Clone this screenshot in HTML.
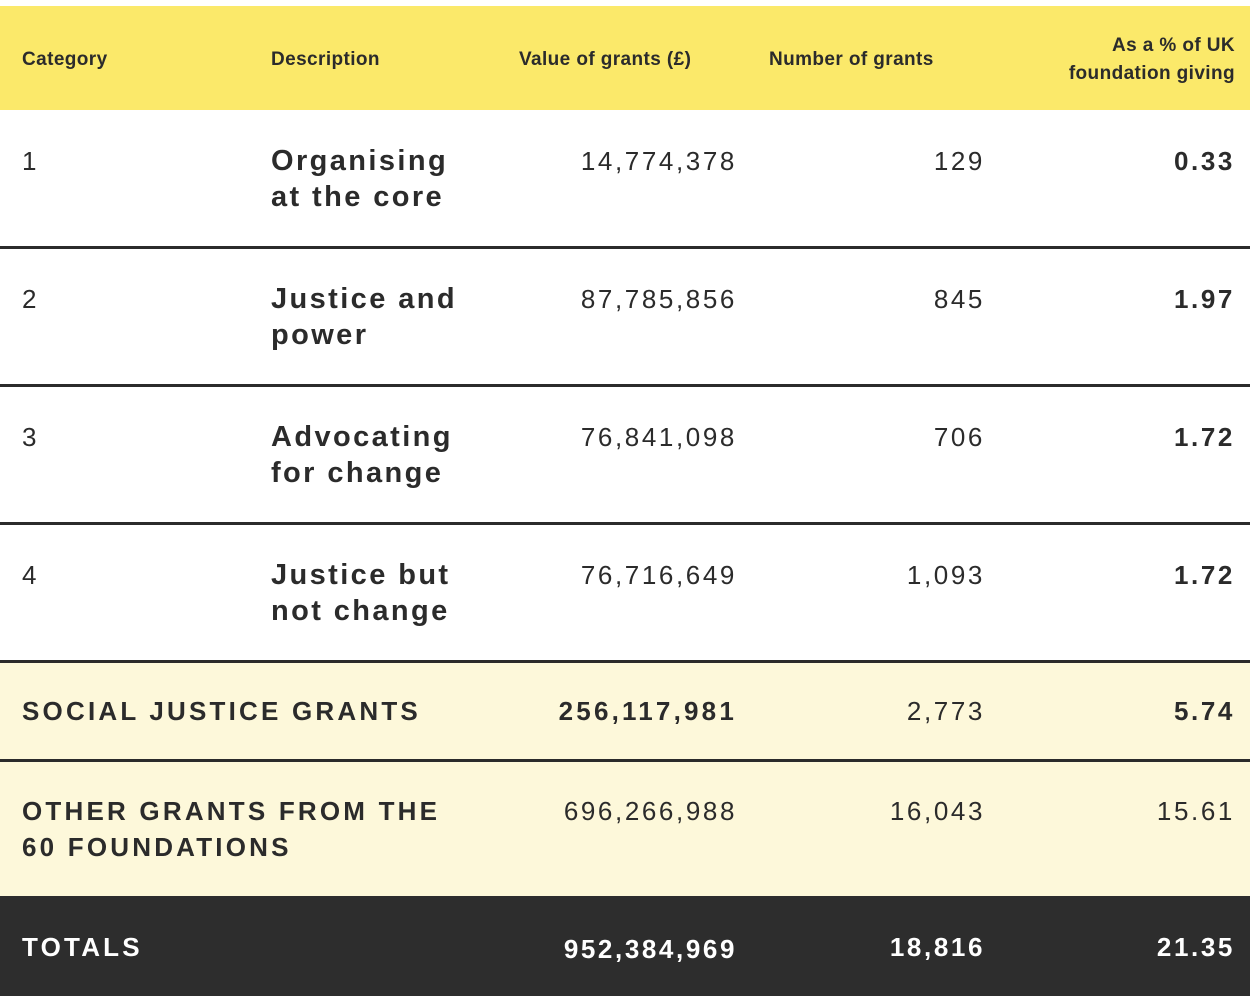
<!DOCTYPE html>
<html><head><style>
body{margin:0;width:1250px;height:996px;position:relative;background:#fff;font-family:"Liberation Sans",sans-serif;color:#2b2b2b;overflow:hidden}
div{position:absolute}
.bg{left:0;width:1250px}
.line{left:0;width:1250px;height:3px;background:#2b2b2b}
.h{font-size:19px;font-weight:bold;line-height:28px;letter-spacing:0.4px}
.n{font-size:26px;letter-spacing:2.6px;line-height:36px}
.r{text-align:right}
.d{font-size:29px;font-weight:bold;letter-spacing:2.4px;line-height:36px}
.c{font-size:26px;font-weight:bold;letter-spacing:3.2px;line-height:36px}
.b{font-weight:bold}
.nb{letter-spacing:3.2px}
</style></head><body>
<div class="bg" style="top:6px;height:104px;background:#fbe96a"></div>
<div class="h" style="left:22px;top:46px">Category</div>
<div class="h" style="left:271px;top:46px">Description</div>
<div class="h" style="left:519px;top:46px">Value of grants (£)</div>
<div class="h" style="left:769px;top:46px">Number of grants</div>
<div class="h r" style="right:15px;top:32px">As a % of UK<br>foundation giving</div>

<div class="line" style="top:246px"></div>
<div class="line" style="top:384px"></div>
<div class="line" style="top:522px"></div>
<div class="bg" style="top:660px;height:236px;background:#fdf8da"></div>
<div class="line" style="top:660px"></div>
<div class="line" style="top:759px"></div>
<div class="bg" style="top:896px;height:100px;background:#2d2d2d"></div>

<div class="n" style="left:22px;top:143px">1</div>
<div class="d" style="left:271px;top:143px">Organising<br>at the core</div>
<div class="n r" style="right:513px;top:143px">14,774,378</div>
<div class="n r" style="right:265px;top:143px">129</div>
<div class="n r b" style="right:15px;top:143px">0.33</div>

<div class="n" style="left:22px;top:281px">2</div>
<div class="d" style="left:271px;top:281px">Justice and<br>power</div>
<div class="n r" style="right:513px;top:281px">87,785,856</div>
<div class="n r" style="right:265px;top:281px">845</div>
<div class="n r b" style="right:15px;top:281px">1.97</div>

<div class="n" style="left:22px;top:419px">3</div>
<div class="d" style="left:271px;top:419px">Advocating<br>for change</div>
<div class="n r" style="right:513px;top:419px">76,841,098</div>
<div class="n r" style="right:265px;top:419px">706</div>
<div class="n r b" style="right:15px;top:419px">1.72</div>

<div class="n" style="left:22px;top:557px">4</div>
<div class="d" style="left:271px;top:557px">Justice but<br>not change</div>
<div class="n r" style="right:513px;top:557px">76,716,649</div>
<div class="n r" style="right:265px;top:557px">1,093</div>
<div class="n r b" style="right:15px;top:557px">1.72</div>

<div class="c" style="left:22px;top:693px">SOCIAL JUSTICE GRANTS</div>
<div class="n r b nb" style="right:513px;top:693px">256,117,981</div>
<div class="n r" style="right:265px;top:693px">2,773</div>
<div class="n r b" style="right:15px;top:693px">5.74</div>

<div class="c" style="left:22px;top:793px">OTHER GRANTS FROM THE<br>60 FOUNDATIONS</div>
<div class="n r" style="right:513px;top:793px">696,266,988</div>
<div class="n r" style="right:265px;top:793px">16,043</div>
<div class="n r" style="right:15px;top:793px">15.61</div>

<div class="c" style="left:22px;top:929px;color:#fff">TOTALS</div>
<div class="n r b" style="right:513px;top:931px;color:#fff">952,384,969</div>
<div class="n r b" style="right:265px;top:929px;color:#fff">18,816</div>
<div class="n r b" style="right:15px;top:929px;color:#fff">21.35</div>
</body></html>
